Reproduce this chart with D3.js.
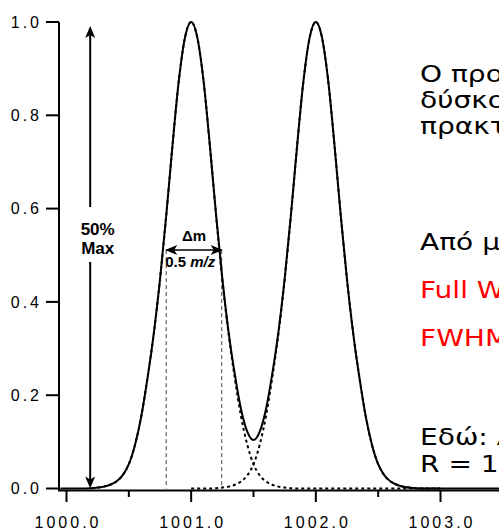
<!DOCTYPE html>
<html><head><meta charset="utf-8">
<script src="https://cdn.jsdelivr.net/npm/d3@7"></script>
<style>html,body{margin:0;padding:0;background:#fff;overflow:hidden}</style>
</head><body>
<svg id="c" width="499" height="531"></svg>
<script>
// ---- data ----
const xMajorTicks = [1000.0, 1001.0, 1002.0, 1003.0];
const xMinorTicks = [1000.5, 1001.5, 1002.5];
const yTicks = [0.0, 0.2, 0.4, 0.6, 0.8, 1.0];

// solid envelope (both peaks together): [m/z, relative intensity]
const totalSpectrum = [
 [999.95,0],[1000.1,0],[1000.2,0.0005],[1000.25,0.002],[1000.3,0.004],[1000.35,0.008],[1000.4,0.015],
 [1000.45,0.028],[1000.5,0.052],[1000.55,0.094],[1000.6,0.155],[1000.65,0.237],[1000.7,0.332],
 [1000.75,0.448],[1000.8,0.585],[1000.85,0.735],[1000.9,0.872],[1000.95,0.966],[1001.0,1.0],
 [1001.05,0.966],[1001.1,0.872],[1001.15,0.735],[1001.2,0.586],[1001.25,0.450],[1001.3,0.336],
 [1001.35,0.245],[1001.4,0.170],[1001.45,0.122],[1001.5,0.104],[1001.55,0.122],[1001.6,0.170],
 [1001.65,0.245],[1001.7,0.336],[1001.75,0.450],[1001.8,0.586],[1001.85,0.735],[1001.9,0.872],
 [1001.95,0.966],[1002.0,1.0],[1002.05,0.966],[1002.1,0.872],[1002.15,0.735],[1002.2,0.585],
 [1002.25,0.448],[1002.3,0.332],[1002.35,0.237],[1002.4,0.155],[1002.45,0.094],[1002.5,0.052],
 [1002.55,0.028],[1002.6,0.015],[1002.65,0.008],[1002.7,0.004],[1002.75,0.002],[1002.8,0.0005],
 [1002.9,0],[1003.6,0]
];
// dashed individual peaks
const peakA = [
 [1000.2,0.0005],[1000.25,0.002],[1000.3,0.004],[1000.35,0.008],[1000.4,0.015],[1000.45,0.028],
 [1000.5,0.052],[1000.55,0.094],[1000.6,0.155],[1000.65,0.237],[1000.7,0.332],[1000.75,0.448],
 [1000.8,0.585],[1000.85,0.735],[1000.9,0.872],[1000.95,0.966],[1001.0,1.0],[1001.05,0.966],
 [1001.1,0.872],[1001.15,0.735],[1001.2,0.585],[1001.25,0.448],[1001.3,0.332],[1001.35,0.237],
 [1001.4,0.155],[1001.45,0.094],[1001.5,0.052],[1001.55,0.028],[1001.6,0.015],[1001.65,0.008],
 [1001.7,0.004],[1001.75,0.002],[1001.8,0.0005],[1001.9,0],[1003.0,0]
];
const peakB = [
 [1001.0,0],[1001.1,0],[1001.2,0.0005],[1001.25,0.002],[1001.3,0.004],[1001.35,0.008],[1001.4,0.015],
 [1001.45,0.028],[1001.5,0.052],[1001.55,0.094],[1001.6,0.155],[1001.65,0.237],[1001.7,0.332],
 [1001.75,0.448],[1001.8,0.585],[1001.85,0.735],[1001.9,0.872],[1001.95,0.966],[1002.0,1.0],
 [1002.05,0.966],[1002.1,0.872],[1002.15,0.735],[1002.2,0.585],[1002.25,0.448],[1002.3,0.332],
 [1002.35,0.237],[1002.4,0.155],[1002.45,0.094],[1002.5,0.052],[1002.55,0.028],[1002.6,0.015],
 [1002.65,0.008],[1002.7,0.004],[1002.75,0.002],[1002.8,0.0005],[1002.9,0],[1003.0,0]
];
const fwhmEdges = [1000.80, 1001.245];     // dashed verticals
const halfMaxLevel = 0.511;                // Δm arrow level
const maxArrowMz = 1000.19;                // "50% Max" arrow position
const sideText = [
 {t:"Ο προσδιορισμός", c:"#000"},
 {t:"δύσκολος", c:"#000"},
 {t:"πρακτικά", c:"#000"},
 {t:"Από μία κορυφή:", c:"#000"},
 {t:"Full Width at Half Maximum", c:"#ff0000"},
 {t:"FWHM = Δm", c:"#ff0000"},
 {t:"Εδώ: Δm = 0.5", c:"#000"},
 {t:"R = 1000/0.5 = 2000", c:"#000"}
];

// ---- drawing ----
const svg = d3.select("#c");
const x = d3.scaleLinear().domain([1000, 1003]).range([66.5, 440.5]);
const y = d3.scaleLinear().domain([0, 1]).range([488.5, 22]);
const tickFont = "'Liberation Sans', Arial, sans-serif";

// y axis
svg.append("line").attr("x1",59).attr("x2",59).attr("y1",y(1)).attr("y2",490.5)
  .attr("stroke","#000").attr("stroke-width",2);
const yg = svg.append("g");
yg.selectAll("line").data(yTicks).join("line")
  .attr("x1",46).attr("x2",59).attr("y1",d=>y(d)).attr("y2",d=>y(d))
  .attr("stroke","#000").attr("stroke-width",2);
yg.selectAll("text").data(yTicks).join("text")
  .attr("x",42).attr("y",d=>y(d)).attr("dy","0.36em")
  .attr("text-anchor","end").attr("font-family",tickFont).attr("font-size",16)
  .attr("letter-spacing",3).text(d=>d.toFixed(1));

// x axis
svg.append("line").attr("x1",58).attr("x2",499).attr("y1",490.5).attr("y2",490.5)
  .attr("stroke","#000").attr("stroke-width",2);
const xg = svg.append("g");
xg.selectAll("line.maj").data(xMajorTicks).join("line").attr("class","maj")
  .attr("x1",d=>x(d)).attr("x2",d=>x(d)).attr("y1",490).attr("y2",502)
  .attr("stroke","#000").attr("stroke-width",2);
xg.selectAll("line.min").data(xMinorTicks).join("line").attr("class","min")
  .attr("x1",d=>x(d)).attr("x2",d=>x(d)).attr("y1",490).attr("y2",497)
  .attr("stroke","#000").attr("stroke-width",2);
xg.selectAll("text").data(xMajorTicks).join("text")
  .attr("x",d=>x(d)+1.5).attr("y",528)
  .attr("text-anchor","middle").attr("font-family",tickFont).attr("font-size",16)
  .attr("letter-spacing",3).text(d=>d.toFixed(1));

// FWHM dashed verticals
svg.selectAll("line.fw").data(fwhmEdges).join("line").attr("class","fw")
  .attr("x1",d=>x(d)).attr("x2",d=>x(d)).attr("y1",y(halfMaxLevel)).attr("y2",y(0))
  .attr("stroke","#444").attr("stroke-width",1).attr("stroke-dasharray","4,3");

// curves
const line = d3.line().x(d=>x(d[0])).y(d=>y(d[1])).curve(d3.curveMonotoneX);
[peakA, peakB].forEach(p=>{
  svg.append("path").attr("d",line(p)).attr("fill","none").attr("stroke","#000")
    .attr("stroke-width",2).attr("stroke-dasharray","3,3");
});
svg.append("path").attr("d",line(totalSpectrum)).attr("fill","none")
  .attr("stroke","#000").attr("stroke-width",2);

// arrowheads
function arrowHead(g, tx, ty, dir){
  g.append("path").attr("d","M0,0 L-12,-5 L-9,0 L-12,5 Z")
   .attr("transform",`translate(${tx},${ty}) rotate(${dir})`).attr("fill","#000");
}
const ax = x(maxArrowMz);
svg.append("line").attr("x1",ax).attr("x2",ax).attr("y1",y(1)+8).attr("y2",207)
  .attr("stroke","#000").attr("stroke-width",2);
svg.append("line").attr("x1",ax).attr("x2",ax).attr("y1",262).attr("y2",y(0)-8)
  .attr("stroke","#000").attr("stroke-width",2);
arrowHead(svg, ax, y(1)+4, -90);
arrowHead(svg, ax, y(0), 90);
const annFont = "'Liberation Sans', Arial, sans-serif";
svg.append("text").attr("x",ax+7.5).attr("y",235).attr("text-anchor","middle")
  .attr("font-family",annFont).attr("font-weight","bold").attr("font-size",17).text("50%");
svg.append("text").attr("x",ax+7.5).attr("y",254).attr("text-anchor","middle")
  .attr("font-family",annFont).attr("font-weight","bold").attr("font-size",17).text("Max");

// Δm arrow
const hy = y(halfMaxLevel);
svg.append("line").attr("x1",x(fwhmEdges[0])).attr("x2",x(fwhmEdges[1])).attr("y1",hy).attr("y2",hy)
  .attr("stroke","#000").attr("stroke-width",1.5);
arrowHead(svg, x(fwhmEdges[0])-1, hy, 180);
arrowHead(svg, x(fwhmEdges[1])+1, hy, 0);
svg.append("text").attr("x",(x(fwhmEdges[0])+x(fwhmEdges[1]))/2).attr("y",241).attr("text-anchor","middle")
  .attr("font-family",annFont).attr("font-weight","bold").attr("font-size",15).text("Δm");
const t2 = svg.append("text").attr("x",x(fwhmEdges[0])-1).attr("y",267)
  .attr("font-family",annFont).attr("font-weight","bold").attr("font-size",15);
t2.append("tspan").text("0.5 ");
t2.append("tspan").attr("font-style","italic").text("m/z");

// side text (horizontally stretched like the reference)
const sideY = [82, 108, 134, 250, 298, 346, 445, 472];
const sg = svg.append("g").attr("transform","translate(420,0) scale(1.22,1)");
sg.selectAll("text").data(sideText).join("text")
  .attr("x",0).attr("y",(d,i)=>sideY[i])
  .attr("font-family","'DejaVu Sans', Verdana, sans-serif").attr("font-size",23)
  .attr("fill",d=>d.c).text(d=>d.t);
</script>
</body></html>
